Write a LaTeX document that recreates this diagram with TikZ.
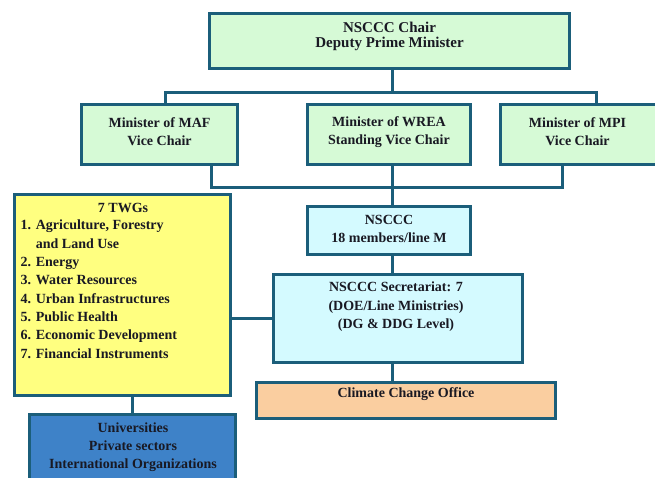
\documentclass[tikz,border=0pt]{standalone}
\usepackage{fontspec}
\setmainfont{Liberation Serif}
\usepackage{tikz}
\usetikzlibrary{backgrounds}

\definecolor{edgeblue}{RGB}{27,94,122}
\definecolor{chairgreen}{RGB}{214,250,214}
\definecolor{nscccblue}{RGB}{212,250,255}
\definecolor{twgyellow}{RGB}{255,255,128}
\definecolor{ccopeach}{RGB}{250,206,160}
\definecolor{uniblue}{RGB}{62,130,200}
\definecolor{inkdark}{RGB}{25,25,35}

\begin{document}
\begin{tikzpicture}[x=1pt,y=-1pt,
		box/.style={draw=edgeblue,line width=3pt,inner sep=0pt},
		txt/.style={align=center,inner sep=0pt,text=inkdark,font=\fontsize{14}{18.5}\selectfont\bfseries},
		link/.style={draw=edgeblue,line width=3pt}]
		\useasboundingbox (0,0) rectangle (655,477);
		\clip (0,0) rectangle (655,477);

		% boxes
		\node[box,fill=chairgreen,minimum width=360pt,minimum height=55pt] (chair) at (389.5,41) {};
		\node[box,fill=chairgreen,minimum width=156pt,minimum height=60pt] (maf)   at (159.5,134.5) {};
		\node[box,fill=chairgreen,minimum width=163pt,minimum height=60pt] (wrea)  at (389,134.5) {};
		\node[box,fill=chairgreen,minimum width=160pt,minimum height=60pt] (mpi)   at (580,134.5) {};
		\node[box,fill=nscccblue,minimum width=163pt,minimum height=48pt]  (nsccc) at (389,230.5) {};
		\node[box,fill=nscccblue,minimum width=249pt,minimum height=88pt]  (sec)   at (398,318.5) {};
		\node[box,fill=ccopeach,minimum width=299pt,minimum height=36pt]   (cco)   at (406,400.5) {};
		\node[box,fill=twgyellow,minimum width=216pt,minimum height=201pt] (twg)   at (122.5,295) {};
		\node[box,fill=uniblue,minimum width=206pt,minimum height=80pt]    (uni)   at (132.5,454.5) {};

		% texts
		\node[txt,font=\fontsize{15}{14.2}\selectfont\bfseries] (chairtxt) at (389.5,36.5) {NSCCC Chair\\Deputy Prime Minister};
		\node[txt] (maftxt)   at (159.5,131.5) {Minister of MAF\\Vice Chair};
		\node[txt] (wreatxt)  at (389,132) {Minister of WREA\\Standing Vice Chair};
		\node[txt] (mpitxt)   at (577.5,131.5) {Minister of MPI\\Vice Chair};
		\node[txt] (nsccctxt) at (389,229) {NSCCC\\18 members/line M};
		\node[txt] (sectxt)   at (396,307) {NSCCC Secretariat: 7\\(DOE/Line Ministries)\\(DG \& DDG Level)};
		\node[txt] (ccotxt)   at (406,394.3) {Climate Change Office};
		\node[txt] (twgtitle) at (123,207.5) {7 TWGs};
		\node[txt,align=left,anchor=north west,font=\fontsize{14}{18.3}\selectfont\bfseries] (twglist) at (20.5,220)
			{1. Agriculture, Forestry\\\phantom{1. }and Land Use\\2. Energy\\3. Water Resources\\4. Urban Infrastructures\\5. Public Health\\6. Economic Development\\7. Financial Instruments};
		\node[txt,font=\fontsize{14}{18}\selectfont\bfseries] (unitxt) at (133,447.5) {Universities\\Private sectors\\International Organizations};

		% connectors
		\coordinate (spine) at (392,0);
		\coordinate (busL) at (165,92);
		\coordinate (busR) at (596,92);
		\coordinate (lowL) at (211,187);
		\coordinate (lowR) at (562,187);
		\begin{scope}[on background layer]
			\draw[link] (chair.south -| spine) -- (spine |- busL);
			\draw[link] (maf.north -| busL) -- (busL) -- (busR) -- (mpi.north -| busR);
			\draw[link] (maf.south -| lowL) -- (lowL) -- (lowR) -- (mpi.south -| lowR);
			\draw[link] (wrea.south -| spine) -- (nsccc.north -| spine);
			\draw[link] (nsccc.south -| spine) -- (sec.north -| spine);
			\draw[link] (sec.south -| spine) -- (cco.north -| spine);
			\draw[link] (twg.east |- sec.west) -- (sec.west);
			\draw[link] (twg.south -| uni.north) -- (uni.north);
		\end{scope}
	\end{tikzpicture}
\end{document}
